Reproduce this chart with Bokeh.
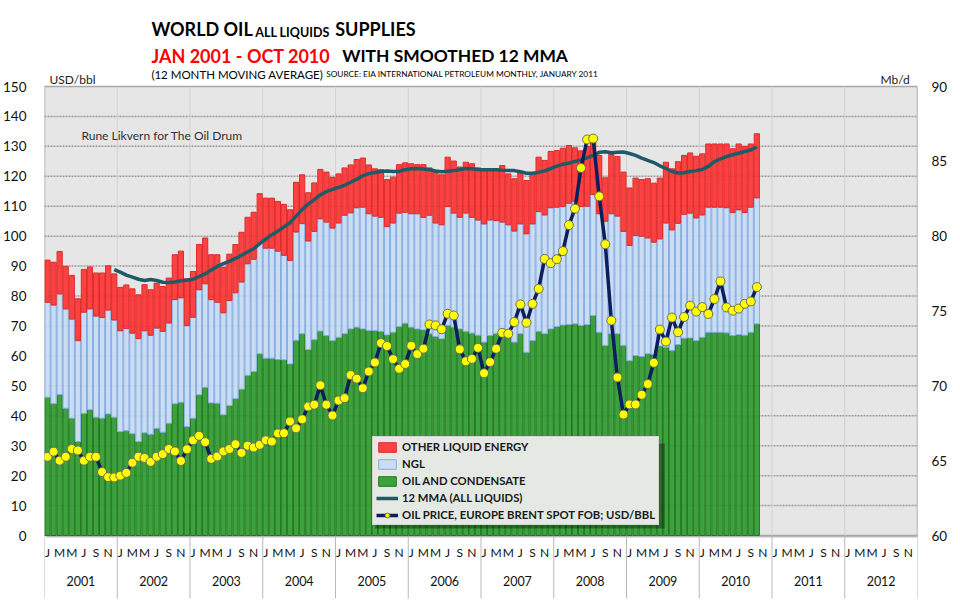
from bokeh.plotting import figure
from bokeh.models import (Range1d, LinearAxis, FixedTicker, Legend,
                          LegendItem, ColumnDataSource)
from bokeh.transform import stack
from bokeh.core.properties import value
from bokeh.embed import file_html
from bokeh.resources import INLINE

# ---------------- data ----------------
years = [str(y) for y in range(2001, 2013)]
month_letters = ["J", "F", "M", "A", "M", "J", "J", "A", "S", "O", "N", "D"]

# Mb/d, Jan 2001 - Oct 2010
oil_mbd = [
    69.24, 68.80, 69.42, 68.50, 67.84, 66.28, 68.16, 68.40, 67.90, 67.84, 68.12, 67.90,
    66.94, 67.00, 66.80, 66.28, 66.86, 66.76, 67.16, 66.90, 67.50, 68.80, 68.90, 67.28,
    67.84, 69.40, 69.90, 68.86, 68.84, 68.06, 68.68, 69.14, 69.78, 70.70, 70.96, 72.14,
    71.84, 71.84, 71.76, 71.74, 71.46, 73.04, 73.48, 72.42, 73.08, 73.66, 73.36, 73.02,
    73.24, 73.48, 73.80, 73.92, 73.80, 73.70, 73.70, 73.64, 73.40, 73.58, 73.96, 74.18,
    73.92, 73.80, 73.74, 73.48, 73.30, 73.14, 74.04, 73.92, 73.80, 73.64, 73.52, 73.38,
    72.92, 73.36, 73.48, 73.58, 73.48, 72.92, 73.48, 72.24, 73.02, 73.64, 73.48, 73.80,
    73.96, 74.06, 74.10, 74.14, 74.04, 74.10, 74.70, 73.58, 72.70, 73.48, 73.48, 72.70,
    71.68, 72.02, 71.96, 72.14, 72.10, 72.66, 72.58, 72.36, 72.76, 73.18, 73.20, 73.02,
    73.24, 73.58, 73.58, 73.58, 73.54, 73.36, 73.42, 73.38, 73.58, 74.14,
]
ngl_mbd = [
    6.34, 6.60, 6.72, 6.64, 6.62, 6.74, 6.76, 6.74, 6.76, 6.72, 6.94, 6.50,
    6.74, 6.84, 6.72, 6.88, 6.82, 6.62, 6.70, 6.74, 6.70, 6.96, 6.98, 6.74,
    6.74, 7.02, 6.92, 6.90, 6.74, 6.82, 7.02, 7.08, 7.16, 7.46, 7.50, 7.42,
    7.36, 7.36, 7.24, 6.98, 6.92, 7.24, 7.36, 7.26, 7.24, 7.50, 7.58, 7.52,
    7.64, 7.92, 7.76, 7.98, 8.14, 7.80, 7.64, 7.62, 7.24, 7.30, 7.58, 7.42,
    7.58, 7.70, 7.52, 7.92, 7.58, 7.62, 7.94, 7.62, 7.46, 7.90, 7.74, 7.70,
    7.90, 7.72, 7.56, 7.36, 7.28, 7.42, 7.34, 7.92, 7.80, 8.00, 7.94, 8.10,
    7.98, 7.92, 8.10, 8.20, 7.94, 7.90, 8.08, 7.92, 8.30, 8.02, 7.86, 7.62,
    7.70, 8.02, 8.04, 7.74, 7.50, 7.16, 8.30, 8.06, 8.10, 8.28, 8.34, 8.20,
    8.18, 8.36, 8.36, 8.36, 8.36, 8.22, 8.34, 8.20, 8.36, 8.42,
]
other_mbd = [
    2.82, 2.86, 2.84, 2.84, 2.92, 2.80, 2.86, 2.80, 2.88, 2.98, 2.96, 3.08,
    2.90, 2.90, 2.96, 2.92, 3.08, 3.04, 3.00, 3.00, 3.00, 3.00, 3.12, 3.14,
    3.06, 3.02, 3.06, 3.00, 3.18, 3.04, 3.10, 3.22, 3.32, 3.10, 3.14, 3.28,
    3.34, 3.34, 3.32, 3.40, 3.38, 3.32, 3.26, 3.22, 3.24, 3.30, 3.34, 3.38,
    3.28, 3.16, 3.20, 3.22, 3.28, 3.26, 3.16, 3.18, 3.14, 3.06, 3.24, 3.30,
    3.34, 3.28, 3.52, 3.16, 3.40, 3.34, 3.30, 3.48, 3.36, 3.40, 3.58, 3.48,
    3.52, 3.36, 3.46, 3.78, 3.40, 3.50, 3.52, 3.56, 3.34, 3.64, 3.64, 3.76,
    3.78, 3.90, 3.86, 3.56, 3.72, 4.00, 3.52, 3.90, 2.90, 3.96, 3.98, 3.96,
    3.84, 3.84, 3.78, 3.96, 3.94, 4.06, 4.06, 4.08, 4.12, 3.94, 4.02, 4.12,
    4.08, 4.22, 4.22, 4.22, 4.26, 4.26, 4.40, 4.42, 4.22, 4.28,
]
# 12 month moving average of all liquids, Dec 2001 - Oct 2010 (Mb/d)
mma_start = 11
mma_mbd = [
    77.76,
    77.60, 77.40, 77.26, 77.12, 77.04, 77.10, 77.04, 76.92, 76.90, 76.94, 77.02, 77.06,
    77.12, 77.30, 77.48, 77.74, 77.98, 78.16, 78.32, 78.52, 78.72, 78.94, 79.16, 79.50,
    79.80, 80.10, 80.34, 80.62, 80.90, 81.34, 81.78, 82.14, 82.44, 82.76, 82.98, 83.12,
    83.26, 83.40, 83.60, 83.80, 84.04, 84.18, 84.26, 84.32, 84.36, 84.32, 84.34, 84.44,
    84.50, 84.52, 84.48, 84.44, 84.36, 84.30, 84.34, 84.38, 84.44, 84.52, 84.50, 84.46,
    84.44, 84.44, 84.44, 84.40, 84.38, 84.38, 84.30, 84.20, 84.20, 84.26, 84.36, 84.52,
    84.68, 84.80, 84.88, 85.00, 85.10, 85.24, 85.40, 85.60, 85.64, 85.58, 85.60, 85.62,
    85.52, 85.40, 85.22, 85.06, 84.92, 84.70, 84.52, 84.32, 84.22, 84.24, 84.32, 84.38,
    84.46, 84.66, 84.98, 85.16, 85.32, 85.44, 85.54, 85.66, 85.76, 85.96,
]
# Europe Brent spot FOB, USD/bbl
brent_usd = [
    26.3, 28.0, 25.0, 26.3, 28.9, 28.4, 25.0, 26.3, 26.3, 21.2, 19.5, 19.4,
    20.0, 20.9, 24.3, 26.3, 25.9, 24.6, 26.3, 27.2, 28.9, 28.1, 24.9, 28.8,
    31.8, 33.3, 31.2, 25.6, 26.4, 28.1, 28.9, 30.5, 27.6, 30.0, 29.4, 30.3,
    31.8, 31.4, 34.1, 34.2, 38.1, 35.8, 38.8, 43.1, 43.7, 50.2, 43.7, 40.1,
    45.1, 45.9, 53.6, 52.4, 49.2, 54.8, 57.8, 64.3, 63.3, 58.9, 55.7, 57.3,
    63.4, 60.6, 62.4, 70.5, 70.2, 68.9, 74.1, 73.5, 62.2, 58.2, 59.0, 62.7,
    54.2, 57.9, 62.4, 67.7, 67.4, 71.3, 77.2, 71.1, 77.4, 82.4, 92.4, 91.0,
    92.3, 95.0, 103.7, 109.2, 122.8, 132.3, 132.6, 113.3, 97.3, 71.8, 52.8, 40.4,
    43.8, 43.8, 47.0, 50.6, 57.7, 68.8, 64.8, 72.8, 67.9, 73.0, 76.8, 74.8,
    76.3, 74.0, 79.0, 84.9, 76.2, 75.1, 75.8, 77.4, 78.2, 83.0,
]

left_ticks = list(range(0, 151, 10))
right_ticks = list(range(60, 91, 5))
label_months = [0, 2, 4, 6, 8, 10]
USD_MAX = 150
MBD_MIN, MBD_MAX = 60, 90

# ---------------- geometry (pixels of the 960x600 picture) ----------------
W, H = 960, 600
PX_L, PX_R, PY_T, PY_B = 43, 917, 86, 535      # plot-area edges
N_MONTHS = 12 * len(years)
KX = (PX_R - PX_L) / N_MONTHS
KY = (PY_B - PY_T) / USD_MAX

def sx(px):
    return (px - PX_L) / KX

def sy(py):
    return (PY_B - py) / KY

y_top, y_bot = sy(0), sy(H)
mb_scale = (MBD_MAX - MBD_MIN) / USD_MAX
FONT = "Lato"

p = figure(width=W, height=H, output_backend="svg", toolbar_location=None,
           x_range=Range1d(0, N_MONTHS), y_range=Range1d(y_bot, y_top),
           x_axis_location=None, min_border_left=PX_L, min_border_right=W - PX_R,
           min_border_top=0, min_border_bottom=0,
           background_fill_color="white", border_fill_color="white",
           outline_line_color=None)
p.extra_y_ranges = {"mbd": Range1d(MBD_MIN + y_bot * mb_scale,
                                   MBD_MIN + y_top * mb_scale)}
p.grid.visible = False

# plot area with a faint drop shadow
p.quad(left=[sx(PX_L + 2)], right=[sx(PX_R + 2)], bottom=[sy(PY_B + 2)],
       top=[sy(PY_T + 2)], fill_color="#bdbdbd", line_color=None)
p.quad(left=[0], right=[N_MONTHS], bottom=[0], top=[USD_MAX],
       fill_color="#e6e6e6", line_color="#a8a8a8", line_width=1.5)

# grid lines
h_grid = left_ticks[1:-1]
p.segment(x0=[0] * len(h_grid), x1=[N_MONTHS] * len(h_grid), y0=h_grid, y1=h_grid,
          line_color="#9c9c9c", line_width=1.5, line_dash="2 1")
year_bounds = list(range(0, N_MONTHS + 1, 12))
v_grid = year_bounds[1:-1]
p.segment(x0=v_grid, x1=v_grid, y0=[0] * len(v_grid), y1=[USD_MAX] * len(v_grid),
          line_color="#d2d2d2", line_width=1)
# category separators below the plot area
p.segment(x0=year_bounds, x1=year_bounds, y0=[0] * len(year_bounds),
          y1=[sy(598)] * len(year_bounds), line_color="#b8b8b8", line_width=1)

# bars
n = len(oil_mbd)
xs = [i + 0.5 for i in range(n)]
src = ColumnDataSource(dict(x=xs, oil=oil_mbd, ngl=ngl_mbd, other=other_mbd))
BW = 0.86
r_oil = p.vbar(x="x", width=BW, bottom=MBD_MIN, top="oil", source=src,
               y_range_name="mbd", fill_color="#2f9c2f", line_color="#217a21",
               fill_alpha=0.93)
r_ngl = p.vbar(x="x", width=BW, bottom=stack("oil"), top=stack("oil", "ngl"),
               source=src, y_range_name="mbd", fill_color="#c8dbf3",
               line_color="#86aee4", fill_alpha=0.93)
r_oth = p.vbar(x="x", width=BW, bottom=stack("oil", "ngl"),
               top=stack("oil", "ngl", "other"), source=src, y_range_name="mbd",
               fill_color="#ff3535", line_color="#dc2b2b", fill_alpha=0.93)

mma_x = [i + 0.5 for i in range(mma_start, mma_start + len(mma_mbd))]
r_mma = p.line(mma_x, mma_mbd, y_range_name="mbd", line_color="#1f5a66",
               line_width=3.5)
r_pl = p.line(xs, brent_usd, line_color="#0d1e5c", line_width=3.5)
r_pm = p.scatter(xs, brent_usd, size=9, fill_color="#ffff00",
                 line_color="#6e6e50", line_width=1)

# legend drop shadow (legend box spans x 371..661, y 440..525 in the picture)
p.quad(left=[sx(374)], right=[sx(664)], bottom=[sy(528)], top=[sy(443)],
       fill_color="#000000", fill_alpha=0.35, line_color=None)

# ---------------- value axes ----------------
yl = p.yaxis[0]
yl.ticker = FixedTicker(ticks=left_ticks)
yl.major_label_standoff = 12
yr = LinearAxis(y_range_name="mbd", ticker=FixedTicker(ticks=right_ticks))
yr.major_label_standoff = 8
p.add_layout(yr, "right")
for ax in (yl, yr):
    ax.axis_line_color = None
    ax.major_tick_line_color = None
    ax.minor_tick_line_color = None
    ax.major_label_text_font = FONT
    ax.major_label_text_font_size = "13.5px"
    ax.major_label_text_color = "#111111"

# ---------------- category labels ----------------
m_x, m_t = [], []
for k in range(len(years)):
    for m in label_months:
        m_x.append(k * 12 + m + 0.5)
        m_t.append(month_letters[m])
p.text(x=m_x, y=[sy(552)] * len(m_x), text=m_t, text_font=value(FONT),
       text_font_size="12px", text_align="center", text_baseline="middle",
       text_color="#111111")
y_x = [k * 12 + 6 for k in range(len(years))]
p.text(x=y_x, y=[sy(580)] * len(y_x), text=years, text_font=value(FONT),
       text_font_size="12.5px", text_align="center", text_baseline="middle",
       text_color="#111111")

# ---------------- legend ----------------
legend = Legend(items=[
    LegendItem(label="OTHER LIQUID ENERGY", renderers=[r_oth]),
    LegendItem(label="NGL", renderers=[r_ngl]),
    LegendItem(label="OIL AND CONDENSATE", renderers=[r_oil]),
    LegendItem(label="12 MMA (ALL LIQUIDS)", renderers=[r_mma]),
    LegendItem(label="OIL PRICE, EUROPE BRENT SPOT FOB; USD/BBL", renderers=[r_pl, r_pm]),
], location=(371 - PX_L, H - 525))
legend.label_text_font = FONT
legend.label_text_font_style = "bold"
legend.label_text_font_size = "11.3px"
legend.label_text_color = "#1a1a1a"
legend.glyph_width = 22
legend.glyph_height = 12
legend.label_height = 12
legend.label_standoff = 4
legend.spacing = 4
legend.padding = 3
legend.margin = 0
legend.background_fill_color = "#e4e9e4"
legend.background_fill_alpha = 1.0
legend.border_line_color = "#c4c4c4"
p.add_layout(legend)

# ---------------- titles & notes ----------------
def add_text(px, py, text, size, color="#000000", style="normal"):
    p.text(x=[sx(px)], y=[sy(py)], text=[text], text_font=value(FONT),
           text_font_size=size, text_color=color, text_font_style=style,
           text_baseline="alphabetic", text_align="left")

add_text(150, 28, "WORLD OIL", "18px", style="bold")
add_text(254, 32, "ALL LIQUIDS", "12.5px", style="bold")
add_text(334, 28, "SUPPLIES", "18px", style="bold")
add_text(150, 55, "JAN 2001 - OCT 2010", "18px", color="#ff0000", style="bold")
add_text(341, 55, "WITH SMOOTHED 12 MMA", "17.4px", style="bold")
add_text(150, 74, "(12 MONTH MOVING AVERAGE)", "11.5px")
add_text(325, 73, "SOURCE: EIA INTERNATIONAL PETROLEUM MONTHLY, JANUARY 2011", "8.3px")
add_text(48, 79, "USD/bbl", "12px", color="#222222")
add_text(880, 79, "Mb/d", "12px", color="#222222")
add_text(80, 135, "Rune Likvern for The Oil Drum", "12px", color="#333333")

open("out.html", "w").write(file_html(p, INLINE))
